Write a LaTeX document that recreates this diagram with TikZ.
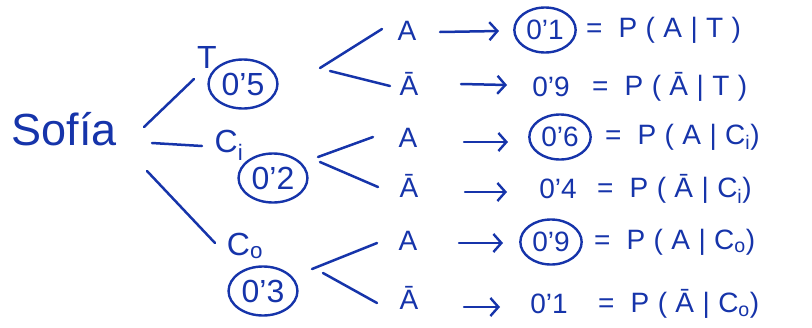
\documentclass[tikz,border=0pt]{standalone}
\usepackage{fontspec}
\setmainfont{Liberation Sans}
\newfontfamily\eqfont[LetterSpace=30]{Liberation Sans}
\usetikzlibrary{shapes.geometric,arrows.meta}
\definecolor{ink}{RGB}{22,52,170}
\begin{document}
\begin{tikzpicture}[x=1pt,y=-1pt, line width=2.5pt, line cap=round, draw=ink,
  every node/.style={text=ink, inner sep=0pt},
  bigtxt/.style={font=\fontsize{45}{45}\selectfont},
  midtxt/.style={font=\fontsize{32}{32}\selectfont},
  smtxt/.style={font=\fontsize{28}{28}\selectfont},
  eqtxt/.style={font=\eqfont\fontsize{28}{28}\selectfont, anchor=west},
  circ/.style={draw=ink, ellipse, inner xsep=3pt, inner ysep=6pt, line width=2.4pt},
  arr/.style={-{Straight Barb[length=8pt,width=18pt,line width=2.4pt]}}]
\useasboundingbox (0,0) rectangle (812,327);

% root
\node[bigtxt] (sofia) at (64,129) {Sofía};

% first level
\node[midtxt] (T) at (207,57) {T};
\node[midtxt,circ] (p5) at (243,84) {0'5};
\node[midtxt] (Ci) at (229,145) {C\textsubscript{i}};
\node[midtxt,circ] (p2) at (273,178) {0'2};
\node[midtxt] (Co) at (245,246) {C\textsubscript{o}};
\node[midtxt,circ] (p3) at (263,291) {0'3};

\draw ([shift={(80,-2)}]sofia.center) -- ([shift={(-13,22)}]T.center);
\draw ([shift={(88,14)}]sofia.center) -- ([shift={(-27,1)}]Ci.center);
\draw ([shift={(83,42)}]sofia.center) -- ([shift={(-30,-3)}]Co.center);

% second level
\node[smtxt] (a1) at (407,31) {A};
\node[smtxt] (a2) at (409,84) {\=A};
\node[smtxt] (a3) at (408,138) {A};
\node[smtxt] (a4) at (409,186) {\=A};
\node[smtxt] (a5) at (408,241) {A};
\node[smtxt] (a6) at (409,298) {\=A};

\draw ([shift={(77,-16)}]p5.center) -- ([shift={(-25,-2)}]a1.center);
\draw ([shift={(87,-13)}]p5.center) -- ([shift={(-19,2)}]a2.center);
\draw ([shift={(45,-21)}]p2.center) -- ([shift={(-35,-1)}]a3.center);
\draw ([shift={(47,-16)}]p2.center) -- ([shift={(-31,1)}]a4.center);
\draw ([shift={(49,-22)}]p3.center) -- ([shift={(-31,2)}]a5.center);
\draw ([shift={(60,-18)}]p3.center) -- ([shift={(-32,5)}]a6.center);

% values
\node[smtxt,circ] (v1) at (545,30) {0'1};
\node[smtxt] (v2) at (551,87) {0'9};
\node[smtxt,circ] (v3) at (560,137) {0'6};
\node[smtxt] (v4) at (558,189) {0'4};
\node[smtxt,circ] (v5) at (551,242) {0'9};
\node[smtxt] (v6) at (549,304) {0'1};

\draw[arr] ([shift={(33,1)}]a1.center) -- ([shift={(-46,1)}]v1.center);
\draw[arr] ([shift={(52,0)}]a2.center) -- ([shift={(-44,-2)}]v2.center);
\draw[arr] ([shift={(56,4)}]a3.center) -- ([shift={(-52,5)}]v3.center);
\draw[arr] ([shift={(56,6)}]a4.center) -- ([shift={(-51,3)}]v4.center);
\draw[arr] ([shift={(51,2)}]a5.center) -- ([shift={(-48,1)}]v5.center);
\draw[arr] ([shift={(55,9)}]a6.center) -- ([shift={(-49,3)}]v6.center);

% equations
\node[eqtxt] (e1) at ([xshift=8pt]v1.east) {= P(A|T)};
\node[eqtxt] (e2) at ([xshift=20pt]v2.east) {= P(\=A|T)};
\node[eqtxt] (e3) at ([xshift=12pt]v3.east) {= P(A|C\textsubscript{i})};
\node[eqtxt] (e4) at ([xshift=18pt]v4.east) {= P(\=A|C\textsubscript{i})};
\node[eqtxt] (e5) at ([xshift=10pt]v5.east) {= P(A|C\textsubscript{o})};
\node[eqtxt] (e6) at ([xshift=28pt]v6.east) {= P(\=A|C\textsubscript{o})};
\end{tikzpicture}
\end{document}
